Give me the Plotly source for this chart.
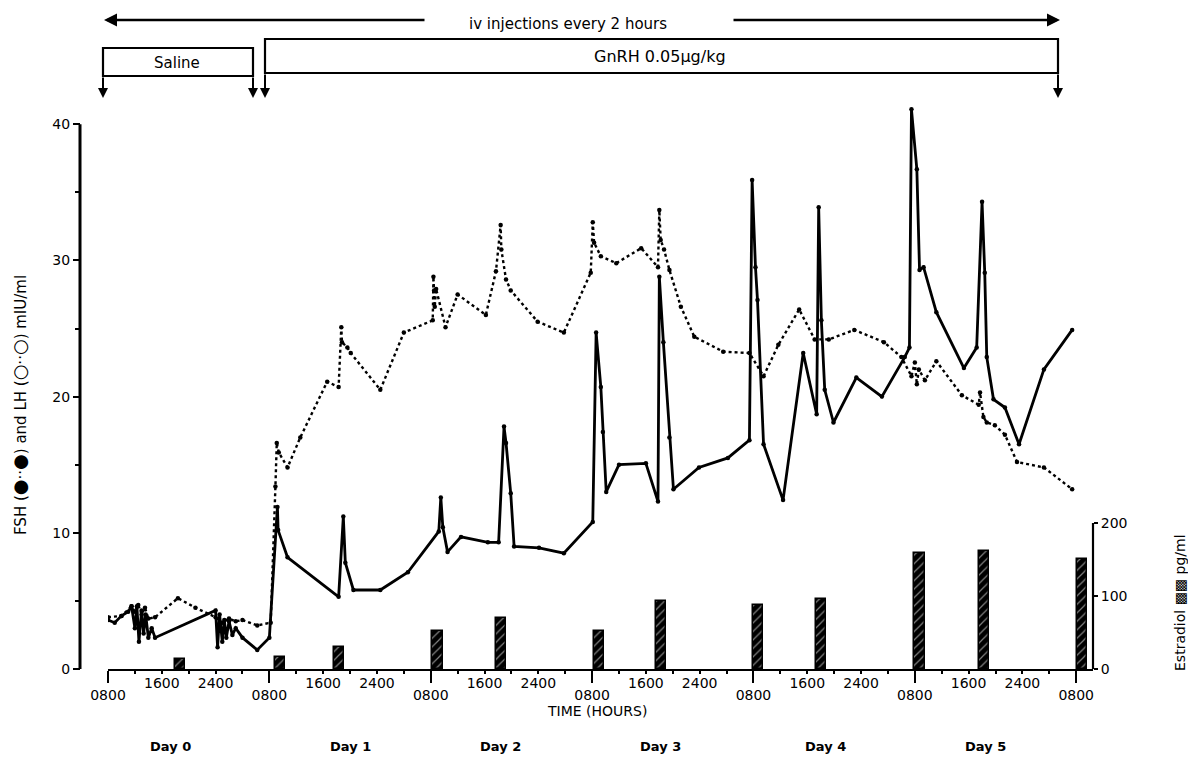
import plotly.graph_objects as go

# ---------------- data (time in hours from 0800 on Day 0) ----------------
lh_hours = [0.0, 1.0, 2.0, 3.0, 3.5, 4.0, 4.3, 4.6, 5.0, 5.3, 5.6, 6.0, 6.5, 7.0,
            16.0, 16.3, 16.6, 17.0, 17.3, 17.6, 18.0, 18.5, 19.0, 20.0, 22.2, 24.0,
            25.2, 25.3, 26.7, 34.3, 35.0, 35.3, 36.5, 40.5, 44.6,
            49.2, 49.5, 49.8, 50.5, 52.5, 56.5, 58.1, 58.9, 59.2, 59.9, 60.4, 64.1, 67.8,
            72.1, 72.6, 73.3, 73.6, 74.1, 76.0, 80.0, 81.8, 82.0, 82.6, 83.5, 84.1,
            87.9, 92.2, 95.4, 95.8, 96.3, 96.6, 97.5, 100.4, 103.4, 105.4, 105.7, 106.1,
            106.6, 107.9, 111.3, 115.1, 118.5, 119.2, 119.5, 120.3, 120.7, 121.3, 123.2,
            127.3, 129.2, 130.0, 130.4, 130.7, 131.7, 133.4, 135.5, 139.2, 143.4]
lh_values = [3.6, 3.4, 3.9, 4.2, 4.6, 3.0, 4.6, 2.0, 4.3, 2.6, 4.0, 2.3, 3.0, 2.3,
             4.3, 1.6, 4.0, 2.0, 3.6, 2.3, 3.5, 2.5, 3.0, 2.3, 1.4, 2.3,
             11.9, 10.2, 8.2, 5.3, 11.2, 7.8, 5.8, 5.8, 7.1,
             10.1, 12.6, 10.4, 8.6, 9.7, 9.3, 9.3, 17.8, 16.6, 12.9, 9.0, 8.9, 8.5,
             10.8, 24.7, 20.7, 17.4, 13.0, 15.0, 15.1, 12.3, 28.8, 24.0, 17.0, 13.2,
             14.8, 15.5, 16.8, 35.9, 29.5, 27.1, 16.5, 12.4, 23.2, 18.7, 33.9, 25.6,
             20.5, 18.1, 21.4, 20.0, 22.9, 23.6, 41.1, 36.7, 29.3, 29.5, 26.2,
             22.1, 23.6, 34.3, 29.1, 22.9, 19.8, 19.2, 16.5, 22.0, 24.9]

fsh_hours = [0.0, 2.0, 3.5, 4.0, 4.5, 5.0, 5.5, 6.0, 7.0, 10.4, 13.0, 16.0, 17.0, 18.0,
             19.0, 20.0, 22.2, 24.2, 24.9, 25.1, 25.4, 26.7, 28.6, 32.6, 34.3, 34.7,
             34.8, 35.6, 36.1, 40.5, 44.0, 48.3, 48.4, 48.5, 48.6, 48.8, 50.2, 52.0,
             56.2, 57.7, 58.4, 58.5, 59.2, 59.9, 63.9, 67.8, 71.8, 72.1, 72.3, 73.3,
             75.6, 79.3, 81.8, 82.0, 82.2, 82.7, 83.5, 85.2, 87.2, 91.5, 95.4, 97.5,
             99.7, 102.8, 105.1, 107.2, 111.0, 115.4, 118.0, 119.5, 120.0, 120.3,
             120.6, 121.5, 123.2, 127.0, 129.5, 129.7, 130.2, 130.7, 131.9, 133.4,
             135.2, 139.2, 143.4]
fsh_values = [3.8, 3.9, 4.6, 4.2, 4.7, 4.0, 4.5, 3.7, 3.8, 5.2, 4.5, 3.8, 3.4, 3.7,
              3.5, 3.6, 3.2, 3.4, 13.4, 16.6, 15.9, 14.8, 17.0, 21.1, 20.7, 25.1,
              24.0, 23.6, 23.2, 20.5, 24.7, 25.6, 28.8, 27.8, 26.6, 27.9, 25.1, 27.5,
              26.0, 29.2, 32.6, 30.8, 28.6, 27.8, 25.5, 24.7, 29.1, 32.8, 31.3, 30.3,
              29.8, 30.9, 29.5, 33.7, 31.5, 30.8, 29.3, 26.6, 24.4, 23.3, 23.2, 21.5,
              23.8, 26.4, 24.2, 24.2, 24.9, 24.0, 22.9, 21.5, 22.5, 20.9,
              22.0, 21.2, 22.6, 20.1, 19.4, 20.3, 18.5, 18.1, 17.9, 17.2,
              15.2, 14.8, 13.2]

estradiol_hours = [10.7, 25.6, 34.3, 49.0, 58.4, 73.0, 82.3, 96.7, 106.1, 120.7, 130.3, 144.9]
estradiol_values = [14, 16, 30, 52, 70, 52, 93, 88, 96, 159, 162, 151]

day_labels = ["Day 0", "Day 1", "Day 2", "Day 3", "Day 4", "Day 5"]
clock_labels = ["0800", "1200", "1600", "2000", "2400", "0400"]
shown_clock = {"0800", "1600", "2400"}
n_days = 6

# ---------------- geometry helpers (layout only) ----------------
W, H = 1188, 775
ML, MR, MT, MB = 80, 95, 97, 106
PW, PH = W - ML - MR, H - MT - MB


def px2x(px):
    return (px - ML) / PW


def py2y(py):
    return (H - MB - py) / PH


FONT = "DejaVu Sans, Liberation Sans, Arial, sans-serif"

# tick arrays
major_vals, major_text = [], []
minor_vals, minor_text = [], []
for d in range(n_days + 1):
    for k, lab in enumerate(clock_labels):
        h = d * 24 + k * 4
        if h > n_days * 24:
            break
        if k == 0:
            major_vals.append(h)
            major_text.append(lab)
        else:
            minor_vals.append(h)
            minor_text.append(lab if lab in shown_clock else "")

fig = go.Figure()

fig.add_trace(go.Scatter(
    x=lh_hours, y=lh_values, mode="lines+markers", name="LH",
    line=dict(color="black", width=2.8),
    marker=dict(color="black", size=4.5),
    xaxis="x", yaxis="y", showlegend=False))

fig.add_trace(go.Scatter(
    x=fsh_hours, y=fsh_values, mode="lines+markers", name="FSH",
    line=dict(color="black", width=2.4, dash="dot"),
    marker=dict(color="black", size=4.5),
    xaxis="x3", yaxis="y", showlegend=False))

fig.add_trace(go.Bar(
    x=estradiol_hours, y=estradiol_values, name="Estradiol", width=1.5,
    marker=dict(color="black", line=dict(color="black", width=1.5),
                pattern=dict(shape="/", fgcolor="white", size=6, solidity=0.2)),
    xaxis="x", yaxis="y2", showlegend=False))

xr = [0, 146.5]
xdom = [px2x(108), 1.0]
TICKFONT = dict(size=14, family=FONT, color="black")

fig.update_layout(
    width=W, height=H,
    margin=dict(l=ML, r=MR, t=MT, b=MB),
    paper_bgcolor="white", plot_bgcolor="white",
    font=dict(family=FONT, color="black", size=12),
    xaxis=dict(domain=xdom, range=xr, anchor="y", showgrid=False, zeroline=False,
               showline=True, linecolor="black", linewidth=2.4,
               tickmode="array", tickvals=major_vals, ticktext=major_text,
               ticks="outside", ticklen=12, tickwidth=2.2, tickcolor="black",
               tickfont=TICKFONT),
    xaxis3=dict(domain=xdom, range=xr, anchor="y", overlaying="x", side="bottom",
                showgrid=False, zeroline=False, showline=False,
                tickmode="array", tickvals=minor_vals, ticktext=minor_text,
                ticks="outside", ticklen=4, tickwidth=2, tickcolor="black",
                ticklabelstandoff=-3, tickfont=TICKFONT),
    yaxis=dict(range=[0, 42], anchor="free", position=0, showgrid=False,
               zeroline=False, showline=False,
               tickmode="array", tickvals=[0, 10, 20, 30, 40],
               ticks="outside", ticklen=7, tickwidth=2.2, tickcolor="black",
               tickfont=TICKFONT,
               minor=dict(tickmode="array", tickvals=[5, 15, 25, 35], ticks="outside",
                          ticklen=5, tickwidth=2, tickcolor="black")),
    yaxis2=dict(range=[0, 200 * PH / (H - MB - 523)], overlaying="y", anchor="free",
                position=1, side="right", showgrid=False, zeroline=False,
                showline=False, tickmode="array", tickvals=[0, 100, 200],
                ticks="outside", ticklen=4, tickwidth=2, tickcolor="black",
                tickfont=TICKFONT),
    bargap=0,
)

shapes = [
    dict(type="line", xref="paper", yref="y", x0=0, x1=0, y0=0, y1=40,
         line=dict(color="black", width=3)),
    dict(type="line", xref="paper", yref="y2", x0=1, x1=1, y0=0, y1=200,
         line=dict(color="black", width=2.2)),
    dict(type="rect", xref="paper", yref="paper", x0=px2x(103), x1=px2x(253),
         y0=py2y(76), y1=py2y(48), line=dict(color="black", width=2.2)),
    dict(type="rect", xref="paper", yref="paper", x0=px2x(265), x1=px2x(1058),
         y0=py2y(73), y1=py2y(39), line=dict(color="black", width=2.2)),
]
fig.update_layout(shapes=shapes)


def txt(px, py, text, size=12, angle=0):
    return dict(xref="paper", yref="paper", x=px2x(px), y=py2y(py), text=text,
                showarrow=False, xanchor="center", yanchor="middle",
                textangle=angle, font=dict(size=size, family=FONT, color="black"))


ann = []
ann.append(dict(xref="paper", yref="paper", x=px2x(104), y=py2y(20), ax=322, ay=0,
                text="", showarrow=True, arrowhead=2, arrowsize=1, arrowwidth=2.6,
                arrowcolor="black"))
ann.append(dict(xref="paper", yref="paper", x=px2x(1060), y=py2y(20), ax=-328, ay=0,
                text="", showarrow=True, arrowhead=2, arrowsize=1, arrowwidth=2.6,
                arrowcolor="black"))
for px, top in [(103, 76), (253, 76), (265, 73), (1058, 73)]:
    ann.append(dict(xref="paper", yref="paper", x=px2x(px), y=py2y(98), ax=0,
                    ay=-(98 - top), text="", showarrow=True, arrowhead=2,
                    arrowsize=1, arrowwidth=2, arrowcolor="black"))

BIG = "<span style='font-size:18px'>%s</span>"
ann.append(txt(568, 24, "iv injections every 2 hours", 15))
ann.append(txt(177, 63, "Saline", 15))
ann.append(txt(660, 57, "GnRH 0.05\u03bcg/kg", 16))
ann.append(txt(597, 711, "TIME (HOURS)", 14))
for lab, px in zip(day_labels, [170, 350, 500, 660, 825, 985]):
    ann.append(txt(px, 746, "<b>" + lab + "</b>", 13))
ann.append(txt(19, 405,
               "FSH (" + BIG % "\u25cf" + "\u00b7\u00b7" + BIG % "\u25cf" + ") and LH ("
               + BIG % "\u25cb" + "\u00b7\u00b7" + BIG % "\u25cb" + ") mIU/ml",
               15, -90))
ann.append(txt(1180, 603, "Estradiol \u25a9\u25a9 pg/ml", 14, -90))
fig.update_layout(annotations=ann)

fig.write_html("out.html", config={"displayModeBar": False},
               post_script="document.body.style.margin='0px';"
                           "document.body.style.overflow='hidden';")
